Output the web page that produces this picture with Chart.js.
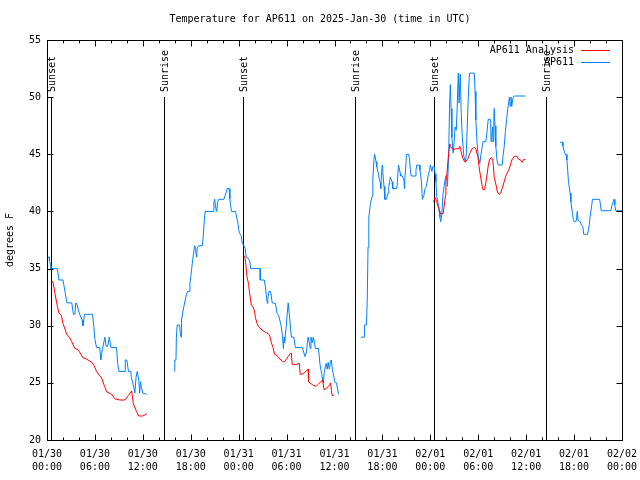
<!DOCTYPE html>
<html><head><meta charset="utf-8">
<script src="https://cdn.jsdelivr.net/npm/chart.js@4/dist/chart.umd.min.js"></script>
<style>html,body{margin:0;padding:0;background:#fff}#wrap{width:640px;height:480px}</style>
</head><body><div id="wrap"><canvas id="c" width="640" height="480"></canvas></div>
<script>
const chartTitle = 'Temperature for AP611 on 2025-Jan-30 (time in UTC)';
const yAxisTitle = 'degrees F';
const seriesNames = ['AP611 Analysis', 'AP611'];
const seriesColors = ['#ff0000', '#0080ff'];
const xTickHours = [0, 6, 12, 18, 24, 30, 36, 42, 48, 54, 60, 66, 72];
const xTickLabels = [['01/30','00:00'],['01/30','06:00'],['01/30','12:00'],['01/30','18:00'],
  ['01/31','00:00'],['01/31','06:00'],['01/31','12:00'],['01/31','18:00'],
  ['02/01','00:00'],['02/01','06:00'],['02/01','12:00'],['02/01','18:00'],['02/02','00:00']];
const yTicks = [20, 25, 30, 35, 40, 45, 50, 55];
const sunHours = [0.5, 14.7, 24.5, 38.55, 48.4, 62.5];
const sunLabels = ['Sunset', 'Sunrise', 'Sunset', 'Sunrise', 'Sunset', 'Sunrise'];

// AP611 observations (hours since 01/30 00:00 UTC); null = no data
const obsHours = [
 0,0.3,0.3,0.5,0.5,1.3,1.5,2.0,2.1,2.5,3.1,3.3,3.5,3.6,3.8,3.95,4.1,4.4,4.5,4.7,5.7,5.85,6.0,6.2,6.6,6.75,6.9,7.25,7.4,7.6,7.8,8.0,8.7,8.85,9.0,9.8,9.8,10.0,10.2,10.5,10.55,10.85,11.0,11.15,11.3,11.5,11.6,11.7,11.8,12.0,12.5,
 14,
 16.0,16.0,16.15,16.2,16.3,16.6,16.7,16.8,16.85,17.0,17.15,17.3,17.45,17.6,17.8,17.9,18.0,18.1,18.2,18.4,18.5,18.6,18.75,18.8,19.0,19.45,19.55,19.7,19.8,20.8,20.9,21.0,21.1,21.25,21.35,21.5,22.15,22.3,22.45,22.55,22.8,22.9,23.0,23.1,23.6,23.75,23.9,24.0,24.1,24.3,24.45,24.6,24.8,24.95,25.2,25.4,25.5,26.7,26.7,27.2,27.35,27.5,27.6,27.65,27.8,28.0,28.2,28.6,28.8,29.0,29.3,29.5,29.6,29.7,29.75,29.95,30.1,30.2,30.35,30.6,30.9,31.1,32.0,32.1,32.3,32.5,32.6,32.7,32.85,32.95,33.05,33.2,33.35,33.5,33.6,34.0,34.2,34.4,34.55,34.6,34.7,34.85,34.95,35.1,35.2,35.35,35.5,35.6,35.75,35.85,36.0,36.1,36.25,36.4,36.5,
 38,
 39.3,39.7,39.75,40.0,40.1,40.2,40.3,40.4,40.5,40.7,40.8,40.9,41.0,41.1,41.2,41.3,41.5,41.6,41.75,41.8,41.9,42.0,42.1,42.2,42.3,42.5,42.7,42.8,42.9,43.0,43.2,43.3,43.8,43.9,44.0,44.1,44.25,44.3,44.5,44.7,44.75,44.8,44.95,45.0,45.3,45.4,45.5,45.6,46.1,46.2,46.3,46.6,46.7,46.8,46.9,47.0,47.2,47.3,47.5,47.6,47.75,47.9,48.0,48.2,48.3,48.5,48.6,48.7,48.8,48.9,49.05,49.1,49.2,49.3,49.45,49.5,49.6,49.75,49.9,50.05,50.15,50.3,50.4,50.5,50.6,50.7,50.85,51.0,51.1,51.25,51.35,51.5,51.6,51.75,51.85,52.0,52.2,52.4,52.5,52.6,52.75,52.9,53.5,53.6,53.7,53.85,54.0,54.2,54.35,54.5,54.6,54.95,55.1,55.25,55.55,55.6,55.7,55.8,55.85,55.95,56.0,56.1,56.2,56.35,56.5,57.0,57.1,57.25,57.4,57.55,57.7,57.8,57.9,58.0,58.1,58.2,58.3,58.4,58.5,59.9,
 62,
 64.25,64.55,64.6,64.75,64.9,65.0,65.1,65.2,65.3,65.5,65.6,65.7,65.8,65.9,66.0,66.2,66.3,66.4,66.5,66.7,66.8,66.9,67.1,67.2,67.7,67.8,67.9,68.0,68.2,68.3,69.2,69.3,69.4,70.6,70.7,70.9,71.0,71.1,71.2,72.0
];
const obsTemps = [
 36,36,35.7,35.2,35,35,34,34,33.6,32,32,31,31,32,31.8,31.3,31,30.5,30,31,31,30,28.8,28.1,28.1,27,27.8,29,28.2,28.2,29,28.1,28.1,26.7,26,26,27,27,26,26,25.5,24.7,24.1,25.5,26,25.2,24.1,25.1,24.7,24.1,24,
 null,
 26,27,27,29,30.06,30.06,29.3,29,30.5,31.2,31.7,32.25,32.7,33,33,33.7,34.3,34.9,35.5,36.6,37,36.6,36,36.8,37,37,37.7,39.2,40,40,40.8,41.06,40.4,40,40.8,41.06,41.06,41.4,41.7,42,42,41.1,40.5,40,40,39.5,39,38.4,38.1,37.9,37.2,37.06,36.8,36,35.9,35.6,35,35,34,34,33.4,32.4,31.96,32.4,33,33,32,31.96,31.1,30.9,30.06,29,28,29,28.5,29.9,31.2,32,30.9,29,29,28.1,28.1,27.8,27.3,27.7,28.5,29,28.5,28,29,28.5,29,28.5,28,28,26.5,25.8,25.1,25,25.8,26.4,26.7,26.2,26.8,26.2,26.9,27,26.1,25.8,25.25,25,25,24.4,24,
 null,
 29,29,30.06,30.06,32.25,36.9,39.5,40.1,40.7,41.3,42.75,44.06,45,44.8,44.35,43.9,43.3,42.8,42.5,42,43.5,44.06,43,42.2,41.06,41.06,41.6,42.2,42.6,43,42.6,42,42,42.75,44.06,43.8,43.3,43.1,43.1,42.75,42,42.8,44.2,45,45,44.5,43.6,43.1,43.1,43.6,44.06,44.06,43.6,43.1,42.5,41.06,41.4,41.9,42.2,42.6,43.2,43.6,44.06,43.5,43.9,43.9,43.3,42.6,41.3,41,40.4,40,39.5,39.1,39.8,40.4,41.6,42.3,43,43.2,42.2,45,49,51.1,49,46.5,45.1,46.2,47.4,47.1,48.9,52.1,49.5,52,49,46.5,44.8,44.3,45,47,50,52.1,52.1,50.5,48,46,44.8,44.2,45,45.7,46.1,46.1,47,48.06,48.06,46.1,46.6,47.4,46.1,48.1,49,47.5,45.7,44.5,44.06,44.06,44.8,45.7,47,48.06,49,49.5,50,49.2,50,49.2,49.75,50,50.1,50.1,
 null,
 46.05,46.05,45.7,45.3,45,45,44.5,43.6,42.6,41.6,40.85,40.3,39.8,39.3,39.1,39.1,39.25,40,39.25,39.1,39.1,38.8,38.7,38,38,38.4,38.8,39.5,40.5,41.06,41.06,40.6,40.06,40.06,40.4,40.85,41.06,40.6,40.06,40.06
];

// AP611 Analysis
const anaHours = [
 0.58,0.75,1.0,1.3,1.5,1.8,2.0,2.5,2.8,3.1,3.5,3.9,4.5,4.9,5.6,5.9,6.2,6.6,6.8,7.2,7.5,8.1,8.5,9.1,9.75,10.2,10.6,10.8,11.2,11.5,12.0,12.5,
 18,
 24.54,24.75,24.875,25.04,25.25,25.375,25.5,25.58,25.79,26.0,26.1,26.3,26.5,26.8,27.2,27.7,27.9,28.1,28.3,28.5,28.8,29.0,29.5,29.75,30.2,30.5,30.6,30.7,31.1,31.6,31.7,32.1,32.7,32.75,32.75,33.3,33.7,34.0,34.5,34.7,34.95,35.4,35.5,35.7,35.9,
 42,
 48.4,48.6,48.7,48.8,48.9,49.05,49.25,49.6,49.75,49.9,49.95,50.08,50.2,50.3,50.45,50.5,50.7,50.9,51.2,51.5,51.7,51.8,51.9,52.1,52.3,52.4,52.7,52.95,53.2,53.5,53.7,53.8,53.96,54.1,54.3,54.5,54.6,54.8,54.95,55.1,55.25,55.4,55.6,55.8,55.9,56.0,56.2,56.4,56.6,56.8,57.0,57.25,57.5,57.8,58.0,58.2,58.5,58.8,59.0,59.3,59.5,59.7,59.9
];
const anaTemps = [
 33.85,33.85,32.8,31.7,31.1,30.9,30.2,29.2,29.0,28.6,28.0,27.9,27.2,27.1,26.8,26.5,26.0,25.6,25.5,24.7,24.2,24.0,23.6,23.5,23.5,23.9,24.3,23.2,22.5,22.1,22.1,22.3,
 null,
 36.1,36.1,35.5,34.3,33.6,32.8,32.25,31.8,31.7,31.2,30.7,30.2,29.9,29.7,29.5,29.3,29.1,28.5,28.1,27.5,27.4,27.2,26.85,26.85,27.3,27.6,27.6,26.6,26.6,26.7,25.75,25.8,26.2,26.2,25.1,24.8,24.7,24.9,25.25,24.4,24.5,24.8,25.0,23.9,23.9,
 null,
 40.85,41.2,41.2,40.85,40.56,40.3,39.8,39.8,40.56,41.4,42.6,43.3,44.35,45.1,45.9,45.7,45.5,45.4,45.5,45.45,45.7,45.4,45.1,44.6,44.35,44.35,44.6,45.1,45.45,45.6,45.5,45.2,44.8,43.9,43.0,42.2,41.9,41.9,42.5,43.2,44.0,44.5,44.7,44.6,43.9,43.0,42.4,41.7,41.5,41.6,42.0,42.6,43.2,43.6,44.0,44.5,44.8,44.85,44.6,44.5,44.3,44.55,44.55
];

const FONT = '"DejaVu Sans Mono", "Liberation Mono", monospace';
const toPts = (hs, ts) => hs.map((h, i) => ({ x: h, y: ts[i] }));

const overlay = {
  id: 'overlay',
  beforeDatasetsDraw(chart) {
    const { ctx, chartArea: a, scales: { x } } = chart;
    ctx.save();
    ctx.strokeStyle = '#000'; ctx.lineWidth = 1; ctx.fillStyle = '#000';
    ctx.font = '10px ' + FONT;
    sunHours.forEach((h, i) => {
      const px = Math.round(x.getPixelForValue(h)) + 0.5;
      ctx.beginPath(); ctx.moveTo(px, 97); ctx.lineTo(px, a.bottom); ctx.stroke();
      ctx.save(); ctx.translate(px + 1, 92); ctx.rotate(-Math.PI / 2);
      ctx.textAlign = 'left'; ctx.textBaseline = 'middle';
      ctx.fillText(sunLabels[i], 0, 0); ctx.restore();
    });
    ctx.restore();
  },
  afterDatasetsDraw(chart) {
    const { ctx, chartArea: a, scales: { x, y } } = chart;
    ctx.save();
    ctx.strokeStyle = '#000'; ctx.lineWidth = 1; ctx.fillStyle = '#000';
    const L = a.left + 0.5, R = a.right + 0.5, T = a.top + 0.5, B = a.bottom + 0.5;
    ctx.strokeRect(L, T, R - L, B - T);
    ctx.beginPath();
    for (let h = 0; h <= 72; h += 2) {
      const px = Math.round(x.getPixelForValue(h)) + 0.5;
      const len = xTickHours.includes(h) ? 6 : 3;
      ctx.moveTo(px, B); ctx.lineTo(px, B - len);
      ctx.moveTo(px, T); ctx.lineTo(px, T + len);
    }
    yTicks.forEach(v => {
      const py = Math.round(y.getPixelForValue(v)) + 0.5;
      ctx.moveTo(L, py); ctx.lineTo(L + 6, py);
      ctx.moveTo(R, py); ctx.lineTo(R - 6, py);
    });
    ctx.stroke();
    ctx.font = '10px ' + FONT;
    // legend
    ctx.textAlign = 'right'; ctx.textBaseline = 'middle';
    seriesNames.forEach((n, i) => {
      const ly = 50 + i * 12;
      ctx.fillStyle = '#000';
      ctx.fillText(n, a.right - 48, ly);
      ctx.strokeStyle = seriesColors[i];
      ctx.beginPath(); ctx.moveTo(a.right - 41, ly + 0.5); ctx.lineTo(a.right - 12, ly + 0.5); ctx.stroke();
    });
    // title
    ctx.fillStyle = '#000'; ctx.textAlign = 'center';
    ctx.fillText(chartTitle, 320, 19);
    ctx.save(); ctx.translate(10, 240); ctx.rotate(-Math.PI / 2);
    ctx.fillText(yAxisTitle, 0, 0); ctx.restore();
    ctx.restore();
  }
};

new Chart(document.getElementById('c'), {
  type: 'line',
  data: {
    datasets: [
      { label: seriesNames[0], data: toPts(anaHours, anaTemps), borderColor: seriesColors[0], borderWidth: 1, pointRadius: 0, spanGaps: false, tension: 0 },
      { label: seriesNames[1], data: toPts(obsHours, obsTemps), borderColor: seriesColors[1], borderWidth: 1, pointRadius: 0, spanGaps: false, tension: 0 }
    ]
  },
  options: {
    responsive: false, animation: false, devicePixelRatio: 1,
    layout: { padding: { left: 0, right: 18, top: 40, bottom: 0 } },
    plugins: { legend: { display: false }, tooltip: { enabled: false }, title: { display: false } },
    scales: {
      x: {
        type: 'linear', min: 0, max: 72,
        afterBuildTicks: s => { s.ticks = xTickHours.map(v => ({ value: v })); },
        afterFit: s => { s.height = 40; s.paddingLeft = 0; s.paddingRight = 0; },
        grid: { display: false, drawTicks: false }, border: { display: false },
        ticks: {
          autoSkip: false, maxRotation: 0, minRotation: 0, padding: 8, color: '#000',
          font: { family: FONT, size: 10, lineHeight: 1.3 },
          callback: v => { const i = xTickHours.indexOf(v); return i >= 0 ? xTickLabels[i] : ''; }
        }
      },
      y: {
        min: 20, max: 55,
        afterBuildTicks: s => { s.ticks = yTicks.map(v => ({ value: v })); },
        afterFit: s => { s.width = 47; s.paddingTop = 0; s.paddingBottom = 0; },
        grid: { display: false, drawTicks: false }, border: { display: false },
        ticks: { padding: 6, color: '#000', font: { family: FONT, size: 10 } }
      }
    }
  },
  plugins: [overlay]
});
</script></body></html>
